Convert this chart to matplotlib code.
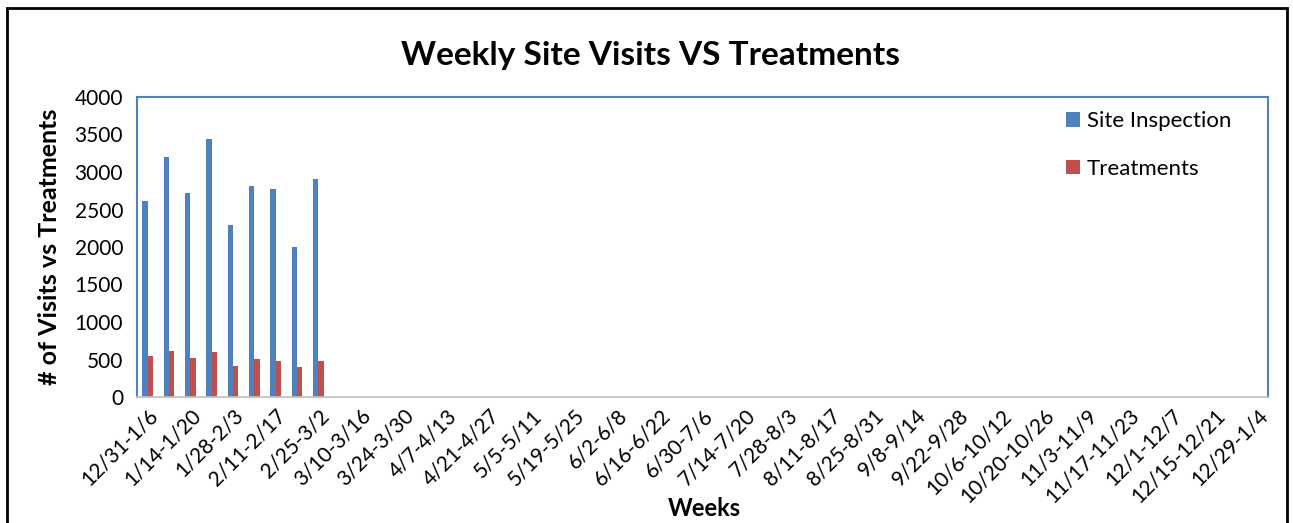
import matplotlib.pyplot as plt
import numpy as np
from matplotlib.patches import Rectangle

plt.rcParams['font.family'] = ['Lato', 'DejaVu Sans']

weeks = ['12/31-1/6', '1/7-1/13', '1/14-1/20', '1/21-1/27', '1/28-2/3', '2/4-2/10',
         '2/11-2/17', '2/18-2/24', '2/25-3/2', '3/3-3/9', '3/10-3/16', '3/17-3/23',
         '3/24-3/30', '3/31-4/6', '4/7-4/13', '4/14-4/20', '4/21-4/27', '4/28-5/4',
         '5/5-5/11', '5/12-5/18', '5/19-5/25', '5/26-6/1', '6/2-6/8', '6/9-6/15',
         '6/16-6/22', '6/23-6/29', '6/30-7/6', '7/7-7/13', '7/14-7/20', '7/21-7/27',
         '7/28-8/3', '8/4-8/10', '8/11-8/17', '8/18-8/24', '8/25-8/31', '9/1-9/7',
         '9/8-9/14', '9/15-9/21', '9/22-9/28', '9/29-10/5', '10/6-10/12', '10/13-10/19',
         '10/20-10/26', '10/27-11/2', '11/3-11/9', '11/10-11/16', '11/17-11/23',
         '11/24-11/30', '12/1-12/7', '12/8-12/14', '12/15-12/21', '12/22-12/28', '12/29-1/4']
site_inspection = [2620, 3195, 2715, 3445, 2290, 2810, 2775, 2000, 2905]
treatments = [547, 613, 520, 596, 413, 502, 475, 396, 480]

blue = '#4f81bd'
red = '#c0504d'

fig = plt.figure(figsize=(12.93, 5.23), dpi=100)
fig.patches.append(Rectangle((7 / 1293, -0.01), 1280 / 1293, 1 - 8 / 523 + 0.01,
                             transform=fig.transFigure, fill=False,
                             edgecolor='black', linewidth=2))
ax = fig.add_axes([137 / 1293, 1 - 397 / 523, 1131 / 1293, 300 / 523])

x = np.arange(len(weeks))
w = 0.25
n = len(site_inspection)
ax.bar(x[:n] - w / 2, site_inspection, w, color=blue, label='Site Inspection')
ax.bar(x[:n] + w / 2, treatments, w, color=red, label='Treatments')

ax.set_xlim(-0.5, len(weeks) - 0.5)
ax.set_ylim(0, 4000)
ax.set_yticks(np.arange(0, 4001, 500))
ax.set_xticks(x[::2])
ax.set_xticklabels(weeks[::2], rotation=45, ha='right', rotation_mode='anchor')
ax.tick_params(axis='both', length=0, labelsize=15)
ax.tick_params(axis='y', pad=10)
ax.tick_params(axis='x', pad=6)

for s in ['left', 'top', 'right']:
    ax.spines[s].set_color(blue)
    ax.spines[s].set_linewidth(1.5)
ax.spines['bottom'].set_color('#bfbfbf')
ax.spines['bottom'].set_linewidth(1.2)

ax.set_ylabel('# of Visits vs Treatments', fontsize=18, fontweight='bold', labelpad=10)
fig.text(704 / 1293, 1 - 508 / 523, 'Weeks', fontsize=17, fontweight='bold', ha='center', va='center')
fig.text(0.503, 1 - 56 / 523, 'Weekly Site Visits VS Treatments', fontsize=24,
         fontweight='bold', ha='center', va='center')

ax.legend(loc='upper right', bbox_to_anchor=(0.985, 1.02), frameon=False, fontsize=16,
          handlelength=0.65, handleheight=0.65, handletextpad=0.3, labelspacing=1.25)

fig.savefig('out.png', dpi=100)
